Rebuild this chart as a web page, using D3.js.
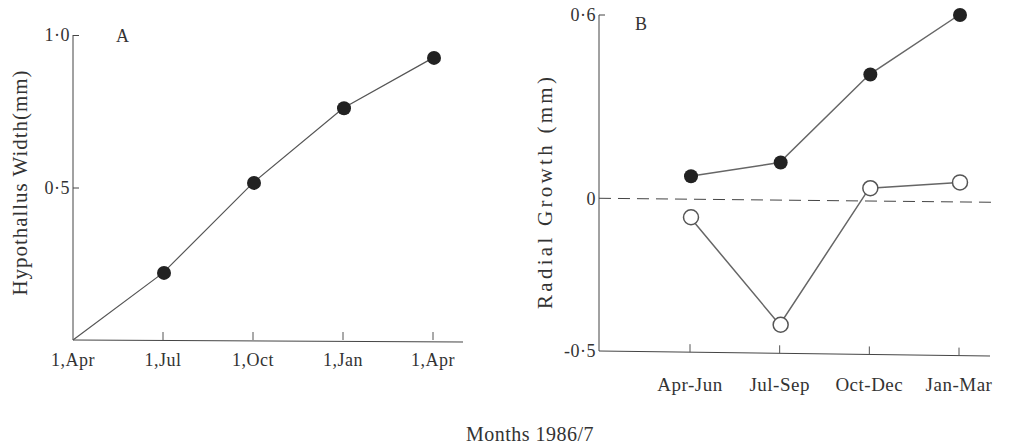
<!DOCTYPE html>
<html>
<head>
<meta charset="utf-8">
<script src="https://cdn.jsdelivr.net/npm/d3@7"></script>
<style>
  body { margin: 0; background: #fff; }
  svg { display: block; font-family: "Liberation Serif", "DejaVu Serif", serif; }
  .domain, .tick line { stroke: #444; }
</style>
</head>
<body>
<svg width="1020" height="446"></svg>
<script>
// panel A: hypothallus width at start of each quarter
var monthIdx = [0, 3, 6, 9, 12]
var monthLabels = ["1,Apr", "1,Jul", "1,Oct", "1,Jan", "1,Apr"]
var widthVals = [0, 0.22, 0.515, 0.76, 0.925]
var aTicks = [0.5, 1.0]
var aTickLabels = ["0·5", "1·0"]

// panel B: radial growth per quarter
var seasons = ["Apr-Jun", "Jul-Sep", "Oct-Dec", "Jan-Mar"]
var growthFilled = [0.072, 0.117, 0.405, 0.6]
var growthOpen = [-0.062, -0.414, 0.033, 0.052]
var bTicks = [-0.5, 0, 0.6]
var bTickLabels = ["-0·5", "0", "0·6"]

const svg = d3.select("svg")
const ink = "#333"

// ---------- A ----------
const xA = d3.scaleLinear().domain([0, 12]).range([73, 433])
const yA = d3.scaleLinear().domain([0, 1]).range([340, 35])

const gA = svg.append("g")

gA.append("line")
  .attr("x1", 73).attr("x2", 463)
  .attr("y1", yA(0)).attr("y2", yA(0) + 2)
  .attr("stroke", "#444")

gA.selectAll(".xtA").data(monthIdx).join("line")
  .attr("x1", d => xA(d)).attr("x2", d => xA(d))
  .attr("y1", yA(0)).attr("y2", yA(0) - 8)
  .attr("stroke", "#555")
  .attr("opacity", (d, i) => i == 0 ? 0 : 1)

gA.selectAll(".xlA").data(monthIdx).join("text")
  .attr("x", d => xA(d)).attr("y", 366)
  .attr("text-anchor", "middle")
  .attr("font-size", 18).attr("letter-spacing", 0.5)
  .attr("fill", ink)
  .text((d, i) => monthLabels[i])

gA.append("g")
  .attr("transform", "translate(73,0)")
  .call(d3.axisLeft(yA).tickValues(aTicks).tickSize(-6).tickPadding(3)
    .tickFormat((d, i) => aTickLabels[i]))
  .call(g => g.select(".domain").attr("d", `M0,${yA(0)}V${yA(1)}`))
  .call(g => g.selectAll("text").attr("font-size", 18).attr("fill", ink)
    .attr("letter-spacing", 0.5).attr("font-family", "Liberation Serif"))

gA.append("text").attr("x", 116).attr("y", 42)
  .attr("font-size", 18).attr("fill", ink).text("A")

gA.append("text")
  .attr("transform", "translate(27,183) rotate(-90)")
  .attr("text-anchor", "middle")
  .attr("font-size", 21).attr("fill", ink)
  .attr("textLength", 225).attr("lengthAdjust", "spacing")
  .text("Hypothallus Width(mm)")

const lineA = d3.line().x((d, i) => xA(monthIdx[i])).y(d => yA(d))
gA.append("path").datum(widthVals)
  .attr("d", lineA).attr("fill", "none")
  .attr("stroke", "#555").attr("stroke-width", 1.2)

gA.selectAll(".dotA").data(widthVals.slice(1)).join("circle")
  .attr("cx", (d, i) => xA(monthIdx[i + 1]) + 1)
  .attr("cy", d => yA(d))
  .attr("r", 7).attr("fill", "#222")

// ---------- B ----------
const xB = d3.scalePoint().domain(seasons).range([690, 959])
const yB = d3.scaleLinear().domain([-0.5, 0.6]).range([351, 15])

const gB = svg.append("g")

gB.append("line")
  .attr("x1", 599).attr("x2", 990)
  .attr("y1", yB(-0.5)).attr("y2", yB(-0.5) + 5)
  .attr("stroke", "#444")

gB.selectAll(".xtB").data(seasons).join("line")
  .attr("x1", d => xB(d)).attr("x2", d => xB(d))
  .attr("y1", d => yB(-0.5) + (xB(d) - 599) / 391 * 5)
  .attr("y2", d => yB(-0.5) + (xB(d) - 599) / 391 * 5 - 8)
  .attr("stroke", "#555")

gB.selectAll(".xlB").data(seasons).join("text")
  .attr("x", d => xB(d)).attr("y", 391)
  .attr("text-anchor", "middle")
  .attr("font-size", 19).attr("letter-spacing", 0.5).attr("fill", ink)
  .text(d => d)

gB.append("g")
  .attr("transform", "translate(599,0)")
  .call(d3.axisLeft(yB).tickValues(bTicks).tickSize(0).tickPadding(3)
    .tickFormat((d, i) => bTickLabels[i]))
  .call(g => g.select(".domain").attr("d", `M0,${yB(-0.5)}V${yB(0.6)}h6`))
  .call(g => g.selectAll("text").attr("font-size", 18).attr("fill", ink)
    .attr("letter-spacing", 0.5).attr("font-family", "Liberation Serif"))

gB.append("line")
  .attr("x1", 599).attr("x2", 992)
  .attr("y1", yB(0)).attr("y2", yB(0) + 4)
  .attr("stroke", "#444").attr("stroke-dasharray", "12,7")

gB.append("text").attr("x", 635).attr("y", 30)
  .attr("font-size", 18).attr("fill", ink).text("B")

gB.append("text")
  .attr("transform", "translate(552,193) rotate(-90)")
  .attr("text-anchor", "middle")
  .attr("font-size", 21).attr("fill", ink)
  .attr("textLength", 232).attr("lengthAdjust", "spacing")
  .text("Radial Growth (mm)")

const lineB = d3.line().x((d, i) => xB(seasons[i])).y(d => yB(d))
gB.append("path").datum(growthFilled)
  .attr("d", lineB).attr("fill", "none")
  .attr("stroke", "#666").attr("stroke-width", 1.5)
gB.append("path").datum(growthOpen)
  .attr("d", lineB).attr("fill", "none")
  .attr("stroke", "#666").attr("stroke-width", 1.5)

gB.selectAll(".dotF").data(growthFilled).join("circle")
  .attr("cx", (d, i) => xB(seasons[i]) + 1).attr("cy", d => yB(d))
  .attr("r", 7).attr("fill", "#222")

gB.selectAll(".dotO").data(growthOpen).join("circle")
  .attr("cx", (d, i) => xB(seasons[i]) + 1).attr("cy", d => yB(d))
  .attr("r", 7.5).attr("fill", "#fff")
  .attr("stroke", "#555").attr("stroke-width", 1.5)

svg.append("text")
  .attr("x", 530).attr("y", 441)
  .attr("text-anchor", "middle")
  .attr("font-size", 20).attr("letter-spacing", 0.5).attr("fill", ink)
  .text("Months 1986/7")
</script>
</body>
</html>
